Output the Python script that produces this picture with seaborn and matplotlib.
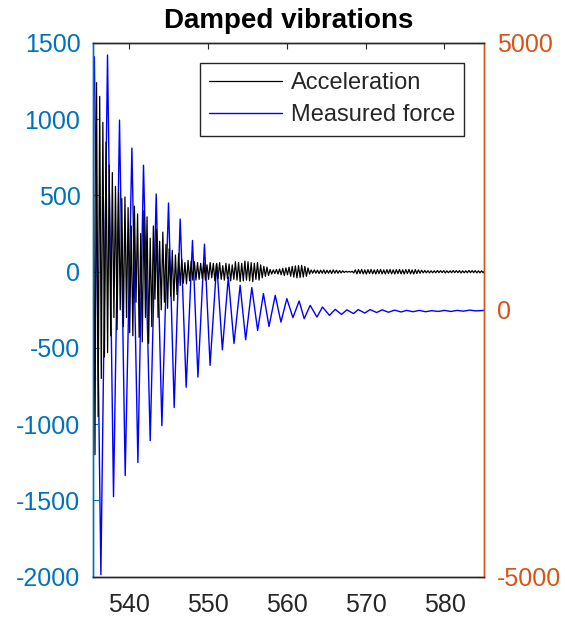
import numpy as np
import pandas as pd
import matplotlib
matplotlib.use("Agg")
import matplotlib.pyplot as plt
import seaborn as sns

force_t = [535.50, 535.62, 536.45, 537.29, 538.05, 538.81, 539.53, 540.38, 541.14,
           541.85, 542.70, 543.46, 544.18, 545.02, 545.74, 546.50, 547.26, 548.06,
           548.75, 549.58, 550.29, 551.13, 551.85, 552.60, 553.32, 554.10, 554.80,
           555.58, 556.32, 557.05, 557.76, 558.55, 559.27, 560.02, 560.79, 561.58,
           562.22, 562.98, 563.83, 564.54, 565.42, 566.15, 566.95, 567.63, 568.47,
           569.06, 569.90, 570.58, 571.40, 572.10, 572.90, 573.70, 574.50, 575.20,
           576.00, 576.80, 577.60, 578.40, 579.20, 580.00, 580.80, 581.60, 582.40,
           583.20, 584.00, 585.10]
force_v = [4500, 4740, -4960, 4775, -3500, 3555, -3105, 3030, -2860,
           2710, -2450, 2170, -2170, 2000, -1830, 1700, -1450, 1300,
           -1260, 1230, -1040, 870, -750, 615, -630, 460, -560,
           417, -385, 304, -310, 272, -229, 210, -146, 165,
           -165, 84, -135, 53, -103, 10, -85, 0, -70,
           5, -60, 5, -50, 0, -45, -5, -40, -10,
           -35, -10, -35, -15, -30, -10, -30, -10, -25,
           -5, -20, -10]

# acceleration (left axis), one value per 0.2 s from 535.5
acc_start = 535.5
acc_step = 0.2
acc_v = [1100, -1200, 1240, -950, 1150,
         -700, 980, -560, 850, -530,
         700, -420, 650, -300, 560,
         -380, 520, -250, 480, -360,
         490, -300, 420, -400, 300,
         -420, 430, -200, 380, -430,
         250, -460, 400, -300, 360,
         -470, 220, -360, 300, -180,
         280, -300, 200, -250, 260,
         -200, 180, -240, 150, -160,
         140, -190, 110, -150, 120,
         -90, 80, -75, 60, -80,
         75, -60, 70, -55, 65,
         -55, 60, -50, 55, -45,
         60, -55, 45, -50, 60,
         -40, 55, -60, 50, -45,
         60, -50, 40, -55, 55,
         -45, 50, -60, 45, -50,
         65, -55, 60, -65, 55,
         -60, 70, -55, 65, -60,
         60, -65, 55, -50, 60,
         -55, 45, -40, 35, -30,
         30, -25, 15, -15, 12,
         -12, 15, -15, 18, -20,
         22, -25, 25, -20, 30,
         -30, 35, -35, 38, -40,
         40, -38, 42, -35, 35,
         -30, 25, -15, 12, -10,
         12, -10, 10, -12, 10,
         -10, 12, -12, 10, -10,
         10, -12, 12, -10, 10,
         -10, 8, -8, 6, -5,
         3, -3, 2, -3, 3,
         -8, 12, -14, 14, -12,
         15, -14, 12, -15, 14,
         -12, 15, -14, 12, -15,
         14, -12, 15, -14, 12,
         -15, 14, -12, 15, -14,
         12, -15, 14, -12, 15,
         -14, 12, -15, 14, -12,
         15, -14, 12, -15, 14,
         -12, 12, -10, 10, -8,
         8, -7, 7, -8, 6,
         -7, 6, -7, 8, -6,
         7, -6, 7, -8, 6,
         -7, 6, -7, 8, -6,
         7, -6, 7, -8, 6,
         -7, 6, -7, 8, -6,
         7, -6, 7, -8, 6,
         -7, 6, -7, 8, -6]

left_ticks = [-2000, -1500, -1000, -500, 0, 500, 1000, 1500]
right_ticks = [-5000, 0, 5000]
x_ticks = [540, 550, 560, 570, 580]

left_col = "#0072BD"
right_col = "#D95319"
axis_col = "#262626"

sns.set_style("white")
plt.rcParams["font.family"] = ["Liberation Sans", "DejaVu Sans"]
plt.rcParams["axes.unicode_minus"] = False

acc_df = pd.DataFrame({"t": acc_start + acc_step * np.arange(len(acc_v)), "v": acc_v})
force_df = pd.DataFrame({"t": force_t, "v": force_v})

fig = plt.figure(figsize=(5.65, 6.23), dpi=100)
ax = fig.add_axes([0.1646, 0.0743, 0.6926, 0.8567])
ax2 = ax.twinx()

sns.lineplot(data=force_df, x="t", y="v", ax=ax2, color="#0000FF", lw=1.0,
             label="Measured force", legend=False)
sns.lineplot(data=acc_df, x="t", y="v", ax=ax, color="black", lw=0.9,
             label="Acceleration", legend=False)

# black drawn above blue
ax.set_zorder(ax2.get_zorder() + 1)
ax.patch.set_visible(False)

ax.set_xlim(535.45, 585.05)
ax.set_ylim(-2000, 1500)
ax2.set_ylim(-5000, 5000)
ax.set_xticks(x_ticks)
ax.set_yticks(left_ticks)
ax2.set_yticks(right_ticks)
ax.set_xlabel("")
ax.set_ylabel("")
ax2.set_xlabel("")
ax2.set_ylabel("")

for a in (ax, ax2):
    for s in a.spines.values():
        s.set_linewidth(1.0)
        s.set_color(axis_col)
ax.spines["left"].set_color(left_col)
ax2.spines["left"].set_color(left_col)
ax.spines["right"].set_color(right_col)
ax2.spines["right"].set_color(right_col)

ax.tick_params(axis="x", direction="in", length=4, top=True, colors=axis_col,
               labelsize=18, pad=12)
ax.tick_params(axis="y", direction="in", length=4, colors=left_col, labelsize=18, pad=9)
ax2.tick_params(axis="y", direction="in", length=4, colors=right_col, labelsize=18, pad=9)

ax.set_title("Damped vibrations", fontsize=20, fontweight="bold", color="black", pad=11)

h1, l1 = ax.get_legend_handles_labels()
h2, l2 = ax2.get_legend_handles_labels()
leg = ax.legend(h1 + h2, l1 + l2, loc="upper right", bbox_to_anchor=(0.949, 0.9625),
                borderaxespad=0, fontsize=17, frameon=True, fancybox=False,
                framealpha=1, edgecolor=axis_col, handlelength=3.1,
                handletextpad=0.35, labelspacing=0.42, borderpad=0.4)
leg.get_frame().set_linewidth(1.0)

fig.savefig("out.png", dpi=100)
